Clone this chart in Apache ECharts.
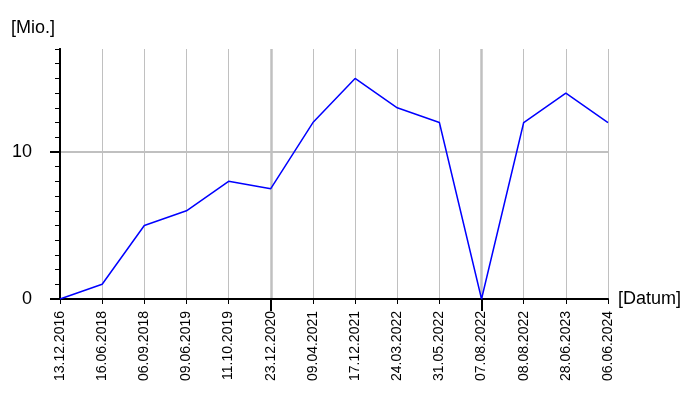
<!DOCTYPE html>
<html><head><meta charset="utf-8">
<script src="https://cdn.jsdelivr.net/npm/echarts@6/dist/echarts.min.js"></script>
<style>html,body{margin:0;background:#fff}#c{width:700px;height:400px}</style>
</head><body><div id="c"></div>
<script>
const dates = ['13.12.2016','16.06.2018','06.09.2018','09.06.2019','11.10.2019','23.12.2020','09.04.2021','17.12.2021','24.03.2022','31.05.2022','07.08.2022','08.08.2022','28.06.2023','06.06.2024'];
const values = [0, 1, 5, 6, 8, 7.5, 12, 15, 13, 12, 0, 12, 14, 12];
const yMajorTicks = [0, 10];
const xMajorIdx = [5, 10];
const yMax = 17;

const font = 'Liberation Sans, Arial, sans-serif';
const chart = echarts.init(document.getElementById('c'), null, {renderer: 'canvas'});
chart.setOption({
  animation: false,
  backgroundColor: '#fff',
  grid: {left: 60, right: 92, top: 49, bottom: 101},
  xAxis: [
    {
      type: 'category', data: dates, boundaryGap: false, position: 'bottom',
      axisLine: {show: true, onZero: false, lineStyle: {color: '#000', width: 2}},
      axisTick: {show: true, length: 5, interval: 0, lineStyle: {color: '#000', width: 1}},
      axisLabel: {rotate: 90, interval: 0, fontSize: 14, color: '#000', margin: 12, fontFamily: font},
      splitLine: {show: true, interval: 0, lineStyle: {color: '#c0c0c0', width: 1}},
      name: '[Datum]', nameLocation: 'end', nameGap: 10,
      nameTextStyle: {fontSize: 18, color: '#000', fontFamily: font}
    },
    {
      type: 'category', data: dates, boundaryGap: false, position: 'bottom', offset: 0,
      axisLine: {show: false, onZero: false},
      axisTick: {show: true, length: 12, interval: (i) => xMajorIdx.includes(i), lineStyle: {color: '#000', width: 2}},
      axisLabel: {show: false},
      splitLine: {show: true, interval: (i) => xMajorIdx.includes(i), lineStyle: {color: '#c0c0c0', width: 2.5}}
    }
  ],
  yAxis: [
    {
      type: 'value', min: 0, max: yMax, interval: 1, position: 'left', offset: 0,
      axisLine: {show: true, onZero: false, lineStyle: {color: '#000', width: 2}},
      axisTick: {show: true, length: 5, lineStyle: {color: '#000', width: 1}},
      axisLabel: {show: false},
      splitLine: {show: false}
    },
    {
      type: 'value', min: 0, max: yMax, interval: 10, position: 'left', offset: 0,
      axisLine: {show: true, onZero: false, lineStyle: {color: '#000', width: 2}},
      axisTick: {show: true, length: 10, customValues: yMajorTicks, lineStyle: {color: '#000', width: 2}},
      axisLabel: {show: true, fontSize: 18, color: '#000', margin: 28, fontFamily: font,
        formatter: (v) => yMajorTicks.includes(v) ? String(v) : ''},
      splitLine: {show: true, lineStyle: {color: ['transparent', '#c0c0c0', 'transparent'], width: 2}},
      name: '[Mio.]', nameLocation: 'end', nameGap: 12,
      nameTextStyle: {fontSize: 18, color: '#000', fontFamily: font, align: 'right', padding: [0, 5, 0, 0]}
    }
  ],
  series: [{
    type: 'line', data: values, xAxisIndex: 0, yAxisIndex: 0,
    symbol: 'none', showSymbol: false,
    lineStyle: {color: '#0000ff', width: 1.5}
  }]
});
</script></body></html>
